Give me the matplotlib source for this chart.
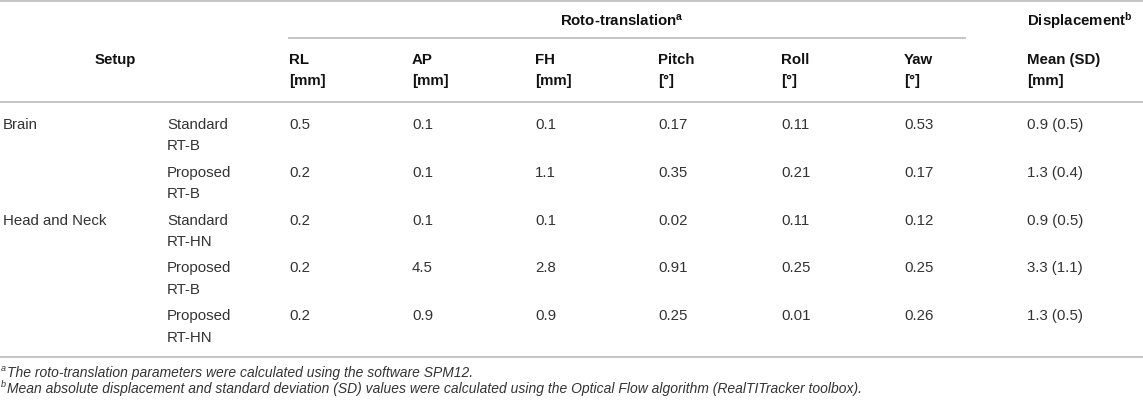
import matplotlib.pyplot as plt
from matplotlib.lines import Line2D

plt.rcParams['font.family'] = ['Liberation Sans', 'DejaVu Sans']
plt.rcParams['mathtext.fontset'] = 'custom'
plt.rcParams['mathtext.rm'] = 'Liberation Sans'
plt.rcParams['mathtext.it'] = 'Liberation Sans:italic'
plt.rcParams['mathtext.bf'] = 'Liberation Sans:bold'

# Дані таблиці
setups = ["Brain", "", "Head and Neck", "", ""]
protocols = ["Standard", "Proposed", "Standard", "Proposed", "Proposed"]
plans = ["RT-B", "RT-B", "RT-HN", "RT-B", "RT-HN"]
rl = [0.5, 0.2, 0.2, 0.2, 0.2]
ap = [0.1, 0.1, 0.1, 4.5, 0.9]
fh = [0.1, 1.1, 0.1, 2.8, 0.9]
pitch = [0.17, 0.35, 0.02, 0.91, 0.25]
roll = [0.11, 0.21, 0.11, 0.25, 0.01]
yaw = [0.53, 0.17, 0.12, 0.25, 0.26]
disp_mean = [0.9, 1.3, 0.9, 3.3, 1.3]
disp_sd = [0.5, 0.4, 0.5, 1.1, 0.5]

col_names = ["RL", "AP", "FH", "Pitch", "Roll", "Yaw", "Mean (SD)"]
col_units = ["[mm]", "[mm]", "[mm]", "[°]", "[°]", "[°]", "[mm]"]
footnote_a = "The roto-translation parameters were calculated using the software SPM12."
footnote_b = ("Mean absolute displacement and standard deviation (SD) values were "
              "calculated using the Optical Flow algorithm (RealTITracker toolbox).")

W, H = 1143, 406
fig = plt.figure(figsize=(W / 100, H / 100), dpi=100)
ax = fig.add_axes([0, 0, 1, 1])
ax.set_xlim(0, W)
ax.set_ylim(H, 0)
ax.axis('off')

line_color = '#c0c0c0'
text_color = '#333333'
head_color = '#111111'
fs = 10.8
fs_note = 10.0

# Горизонтальні лінії
for y in (2, 103, 358):
    ax.add_line(Line2D([0, W], [y, y], color=line_color, lw=1.3))
ax.add_line(Line2D([289, 965], [39, 39], color=line_color, lw=1.3))

# Заголовки
ax.text(115, 60, "Setup", ha='center', va='center', fontsize=fs,
        fontweight='bold', color=head_color)
ax.text(622, 21, r"Roto-translation$^{\mathbf{a}}$", ha='center', va='center',
        fontsize=fs, fontweight='bold', color=head_color)
ax.text(1027, 21, r"Displacement$^{\mathbf{b}}$", ha='left', va='center',
        fontsize=fs, fontweight='bold', color=head_color)

col_x = [289, 412, 535, 658, 781, 904, 1027]
for x, name, unit in zip(col_x, col_names, col_units):
    ax.text(x, 60, name, ha='left', va='center', fontsize=fs,
            fontweight='bold', color=head_color)
    ax.text(x, 81, unit, ha='left', va='center', fontsize=fs,
            fontweight='bold', color=head_color)

# Рядки
for i in range(len(protocols)):
    y = 125 + 47.8 * i
    ax.text(3, y, setups[i], ha='left', va='center', fontsize=fs, color=text_color)
    ax.text(167, y, protocols[i], ha='left', va='center', fontsize=fs, color=text_color)
    ax.text(167, y + 21.5, plans[i], ha='left', va='center', fontsize=fs, color=text_color)
    cells = [f"{rl[i]:.1f}", f"{ap[i]:.1f}", f"{fh[i]:.1f}",
             f"{pitch[i]:.2f}", f"{roll[i]:.2f}", f"{yaw[i]:.2f}",
             f"{disp_mean[i]:.1f} ({disp_sd[i]:.1f})"]
    for x, c in zip(col_x, cells):
        ax.text(x, y, c, ha='left', va='center', fontsize=fs, color=text_color)

# Примітки
for y, mark, note in ((373, "a", footnote_a), (389, "b", footnote_b)):
    ax.text(1, y - 4, mark, ha='left', va='center', fontsize=6.5,
            style='italic', color=text_color)
    ax.text(7, y, note, ha='left', va='center', fontsize=fs_note,
            style='italic', color=text_color)

fig.savefig("out.png", dpi=100)
